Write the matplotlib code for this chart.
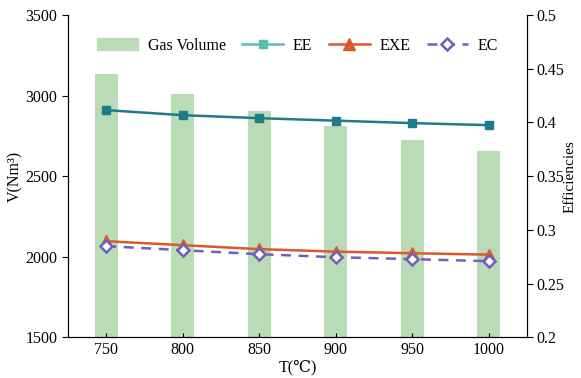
import matplotlib
matplotlib.use('Agg')
import matplotlib.pyplot as plt
from matplotlib.lines import Line2D
from matplotlib.patches import Patch

plt.rcParams['font.family'] = ['Liberation Serif', 'DejaVu Serif', 'Noto Sans CJK SC']
plt.rcParams['font.size'] = 11.5

# data
temps = [750, 800, 850, 900, 950, 1000]
gas_volume = [3134, 3009, 2904, 2811, 2724, 2655]
ee = [0.4115, 0.4068, 0.4040, 0.4017, 0.3994, 0.3975]
exe = [0.2894, 0.2857, 0.2820, 0.2797, 0.2782, 0.2769]
ec = [0.2848, 0.2810, 0.2773, 0.2745, 0.2727, 0.2708]

c_bar = '#b9dcb6'
c_ee = '#1f7a8a'
c_ee_light = '#5bbcb2'
c_exe = '#d95a2b'
c_ec = '#6f5fbf'

fig, ax = plt.subplots(figsize=(5.81, 3.78), dpi=100)
fig.subplots_adjust(left=0.117, right=0.907, top=0.96, bottom=0.108)

ax.bar(temps, gas_volume, width=15, color=c_bar, zorder=1)
ax.set_ylim(1500, 3500)
ax.set_xlim(725, 1025)
ax.set_xticks(temps)
ax.set_yticks([1500, 2000, 2500, 3000, 3500])
ax.set_ylabel('V(Nm³)', labelpad=2)
ax.set_xlabel('T(℃)', labelpad=1)
ax.tick_params(axis='x', direction='in', length=3)
ax.tick_params(axis='y', direction='out', length=4)
ax.spines['top'].set_visible(False)

ax2 = ax.twinx()
ax2.plot(temps, ee, color=c_ee, lw=1.8, marker='s', ms=6, mfc=c_ee, mec=c_ee, zorder=3)
ax2.plot(temps, exe, color=c_exe, lw=1.8, marker='^', ms=8, mfc=c_exe, mec=c_exe, zorder=3)
ax2.plot(temps, ec, color=c_ec, lw=1.8, ls=(0, (4, 3)), marker='D', ms=6.5,
         mfc='white', mec=c_ec, mew=1.8, zorder=3)
ax2.set_ylim(0.2, 0.5)
ax2.set_yticks([0.2, 0.25, 0.3, 0.35, 0.4, 0.45, 0.5])
ax2.set_yticklabels(['0.2', '0.25', '0.3', '0.35', '0.4', '0.45', '0.5'])
ax2.set_ylabel('Efficiencies', labelpad=0, fontsize=11)
ax2.tick_params(axis='y', direction='out', length=4, pad=2.5)
ax2.spines['top'].set_visible(False)

handles = [
    Patch(color=c_bar),
    Line2D([], [], color=c_ee_light, lw=1.8, marker='s', ms=6, mfc=c_ee_light, mec=c_ee_light),
    Line2D([], [], color=c_exe, lw=1.8, marker='^', ms=8, mfc=c_exe, mec=c_exe),
    Line2D([], [], color=c_ec, lw=1.8, ls=(0, (4, 3)), marker='D', ms=6.5, mfc='white', mec=c_ec, mew=1.8),
]
labels = ['Gas Volume', 'EE', 'EXE', 'EC']
ax2.legend(handles, labels, ncol=4, frameon=False, loc='upper center',
           bbox_to_anchor=(0.5, 0.975), handlelength=2.6, columnspacing=1.0,
           handletextpad=0.6)

plt.savefig('out.png', dpi=100)
plt.close()
